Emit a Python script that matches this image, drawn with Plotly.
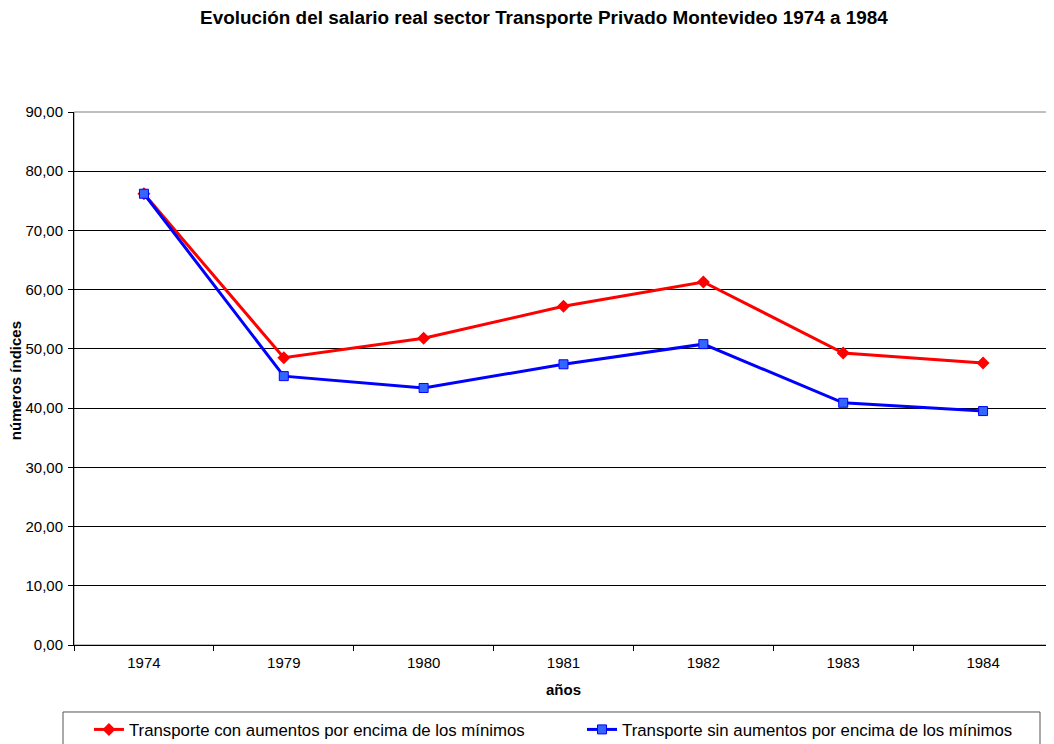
import plotly.graph_objects as go

years = ["1974", "1979", "1980", "1981", "1982", "1983", "1984"]
con_aumentos = [76.2, 48.5, 51.8, 57.2, 61.3, 49.3, 47.6]
sin_aumentos = [76.2, 45.4, 43.4, 47.4, 50.8, 40.9, 39.5]

fnt = "Liberation Sans, Arial, sans-serif"

fig = go.Figure()

fig.add_trace(go.Scatter(
    x=years, y=con_aumentos,
    mode="lines+markers",
    name="Transporte con aumentos por encima de los mínimos",
    line=dict(color="#FF0000", width=3),
    marker=dict(symbol="diamond", size=10, color="#FF0000"),
    legend="legend"
))

fig.add_trace(go.Scatter(
    x=years, y=sin_aumentos,
    mode="lines+markers",
    name="Transporte sin aumentos por encima de los mínimos",
    line=dict(color="#0000FF", width=3),
    marker=dict(symbol="square", size=9, color="#3366FF",
                line=dict(color="#0000FF", width=1)),
    legend="legend2"
))

plot_w = 1054 - 66 - 9

leg_common = dict(
    orientation="h", xanchor="left",
    y=-0.1257, yanchor="top",
    borderwidth=0, bgcolor="rgba(0,0,0,0)",
    font=dict(size=16.8)
)

# page body adds 8px offset, margins compensate
fig.update_layout(
    width=1054, height=744,
    paper_bgcolor="white", plot_bgcolor="white",
    font=dict(family=fnt, size=15, color="black"),
    margin=dict(l=66, r=9, t=104, b=107, autoexpand=False),
    separators=",.",
    title=dict(
        text="<b>Evolución del salario real sector Transporte Privado Montevideo 1974 a 1984</b>",
        x=0.5085, xanchor="center", y=0.988, yanchor="middle",
        font=dict(size=18.9)
    ),
    showlegend=True,
    legend=dict(x=13 / plot_w + 0.002, **leg_common),
    legend2=dict(x=508 / plot_w, **leg_common),
)

fig.update_xaxes(
    type="category",
    range=[-0.5, len(years) - 0.5],
    showgrid=False,
    showline=True, linecolor="black", linewidth=1,
    ticks="outside", tickson="boundaries", ticklen=5, tickcolor="black",
    ticklabelstandoff=4,
    title=dict(text="<b>años</b>", font=dict(size=15), standoff=14),
)

fig.update_yaxes(
    range=[0, 90], dtick=10,
    tickformat=".2f",
    showgrid=True, gridcolor="black", gridwidth=1,
    showline=True, linecolor="black", linewidth=1,
    ticks="outside", ticklen=5, tickcolor="black",
    ticklabelstandoff=2,
    zeroline=False,
)

fig.add_annotation(
    text="<b>números índices</b>", textangle=-90,
    xref="paper", yref="paper", x=-59 / plot_w, y=0.495,
    xanchor="center", yanchor="middle", showarrow=False,
    font=dict(size=15)
)

fig.add_shape(type="rect", xref="paper", yref="paper", x0=0, x1=1, y0=0, y1=1,
              line=dict(color="#808080", width=1), layer="below")

# legend frame
fig.add_shape(type="rect", xref="paper", yref="paper",
              x0=-11 / plot_w, x1=966 / plot_w, y0=-0.1257, y1=-0.3,
              line=dict(color="#555555", width=1), layer="below")

fig.write_html("out.html")
